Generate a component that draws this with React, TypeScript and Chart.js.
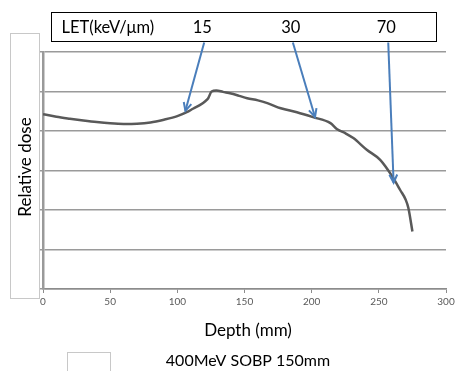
import React, { useEffect, useRef } from 'react';
import { Chart, registerables } from 'chart.js';

Chart.register(...registerables);

// ---- data ----
const depthMm = [0, 10, 20, 30, 40, 50, 60, 70, 80, 90, 100, 107, 112, 117, 121, 123, 125.5, 129, 134, 140, 146, 152, 160, 167, 177, 189, 201, 214, 219, 225, 231, 241, 251, 260, 266, 270, 272, 275];
const relativeDose = [0.885, 0.872, 0.862, 0.853, 0.845, 0.839, 0.836, 0.837, 0.843, 0.857, 0.875, 0.895, 0.914, 0.932, 0.952, 0.966, 1.0, 1.005, 0.998, 0.99, 0.978, 0.966, 0.955, 0.941, 0.915, 0.895, 0.87, 0.84, 0.809, 0.789, 0.764, 0.705, 0.654, 0.57, 0.5, 0.452, 0.41, 0.291];

const xMin = 0;
const xMax = 300;
const xStep = 50;
const yMin = 0;
const yMax = 1.2;
const yStep = 0.2;

const letTitle = 'LET(keV/\u03bcm)';
const letLabels = ['15', '30', '70'];
const letLabelDepth = [120, 186, 257];
const letTargetDepth = [106, 202.5, 261];
const letTargetDose = [0.902, 0.871, 0.538];

const yTitle = 'Relative dose';
const xTitle = 'Depth (mm)';
const legendLabel = '400MeV SOBP 150mm';

const FONT = 'Lato, "Open Sans", "Liberation Sans", sans-serif';

const extrasPlugin = {
  id: 'extras',
  afterDraw(chart: any) {
    const ctx = chart.ctx as CanvasRenderingContext2D;
    const area = chart.chartArea;
    const xs = chart.scales.x;
    const ys = chart.scales.y;
    ctx.save();

    // y-title box
    ctx.strokeStyle = '#c8c8c8';
    ctx.lineWidth = 1;
    ctx.strokeRect(10.5, 33.5, 29, 265);

    // y title
    ctx.save();
    ctx.translate(26, 167);
    ctx.rotate(-Math.PI / 2);
    ctx.fillStyle = '#000';
    ctx.font = `17px ${FONT}`;
    ctx.textAlign = 'center';
    ctx.textBaseline = 'middle';
    ctx.fillText(yTitle, 0, 0);
    ctx.restore();

    // LET box
    const boxL = Math.round(area.left + 8) + 0.5;
    const boxR = Math.round(area.right - 10) + 0.5;
    const boxT = 12.5;
    const boxB = 41.5;
    ctx.fillStyle = '#fff';
    ctx.fillRect(boxL, boxT, boxR - boxL, boxB - boxT);
    ctx.strokeStyle = '#000';
    ctx.lineWidth = 1;
    ctx.strokeRect(boxL, boxT, boxR - boxL, boxB - boxT);

    ctx.fillStyle = '#000';
    ctx.font = `16.5px ${FONT}`;
    ctx.textBaseline = 'middle';
    ctx.textAlign = 'left';
    ctx.fillText(letTitle, boxL + 10, 27.5);
    ctx.textAlign = 'center';
    letLabels.forEach((lab, i) => {
      ctx.fillText(lab, xs.getPixelForValue(letLabelDepth[i]) - 2, 27.5);
    });

    // arrows
    ctx.strokeStyle = '#4a7ebb';
    ctx.lineWidth = 2;
    letLabels.forEach((_, i) => {
      const x0 = xs.getPixelForValue(letLabelDepth[i]);
      const y0 = boxB + 1;
      const x1 = xs.getPixelForValue(letTargetDepth[i]);
      const y1 = ys.getPixelForValue(letTargetDose[i]);
      const ang = Math.atan2(y1 - y0, x1 - x0);
      ctx.beginPath();
      ctx.moveTo(x0, y0);
      ctx.lineTo(x1, y1);
      ctx.stroke();
      const hl = 9;
      const hw = 0.45;
      ctx.beginPath();
      ctx.moveTo(x1 - hl * Math.cos(ang - hw), y1 - hl * Math.sin(ang - hw));
      ctx.lineTo(x1, y1);
      ctx.lineTo(x1 - hl * Math.cos(ang + hw), y1 - hl * Math.sin(ang + hw));
      ctx.stroke();
    });

    // x title
    const cx = 248;
    ctx.fillStyle = '#000';
    ctx.font = `17px ${FONT}`;
    ctx.textAlign = 'center';
    ctx.textBaseline = 'middle';
    ctx.fillText(xTitle, cx, 331);

    // legend
    ctx.strokeStyle = '#c8c8c8';
    ctx.lineWidth = 1;
    ctx.strokeRect(67.5, 352.5, 43, 30);
    ctx.font = `16px ${FONT}`;
    ctx.fillText(legendLabel, cx, 361);

    ctx.restore();
  },
};

export default function App() {
  const ref = useRef<HTMLCanvasElement | null>(null);
  useEffect(() => {
    if (!ref.current) return;
    const chart = new Chart(ref.current, {
      type: 'line',
      data: {
        datasets: [
          {
            label: legendLabel,
            data: depthMm.map((d, i) => ({ x: d, y: relativeDose[i] })),
            borderColor: '#595959',
            borderWidth: 2.5,
            pointRadius: 0,
            fill: false,
            cubicInterpolationMode: 'monotone',
          },
        ],
      },
      options: {
        animation: false,
        responsive: false,
        maintainAspectRatio: false,
        layout: { padding: { left: 0, top: 52, right: 9, bottom: 0 } },
        plugins: {
          legend: { display: false },
          tooltip: { enabled: false },
          title: { display: false },
        },
        scales: {
          x: {
            type: 'linear',
            min: xMin,
            max: xMax,
            afterFit: (s: any) => {
              s.height = 82;
              s.paddingRight = 0;
              s.paddingLeft = 0;
            },
            ticks: {
              stepSize: xStep,
              color: '#595959',
              font: { family: FONT, size: 10 },
              padding: 3,
              maxRotation: 0,
            },
            grid: {
              drawOnChartArea: false,
              drawTicks: true,
              tickLength: 4,
              color: '#8c8c8c',
              lineWidth: 1,
            },
            border: { color: '#8c8c8c', width: 1.5 },
          },
          y: {
            type: 'linear',
            min: yMin,
            max: yMax,
            afterFit: (s: any) => {
              s.width = 43;
            },
            ticks: { stepSize: yStep, display: false },
            grid: {
              color: '#9a9a9a',
              lineWidth: 1.5,
              drawTicks: true,
              tickLength: 3,
            },
            border: { color: '#9a9a9a', width: 2.5 },
          },
        },
      },
      plugins: [extrasPlugin],
    } as any);
    return () => chart.destroy();
  }, []);
  return (
    <div style={{ position: 'fixed', left: 0, top: 0, width: 455, height: 371, background: '#fff' }}>
      <canvas ref={ref} width={455} height={371} style={{ width: 455, height: 371, display: 'block' }} />
    </div>
  );
}
